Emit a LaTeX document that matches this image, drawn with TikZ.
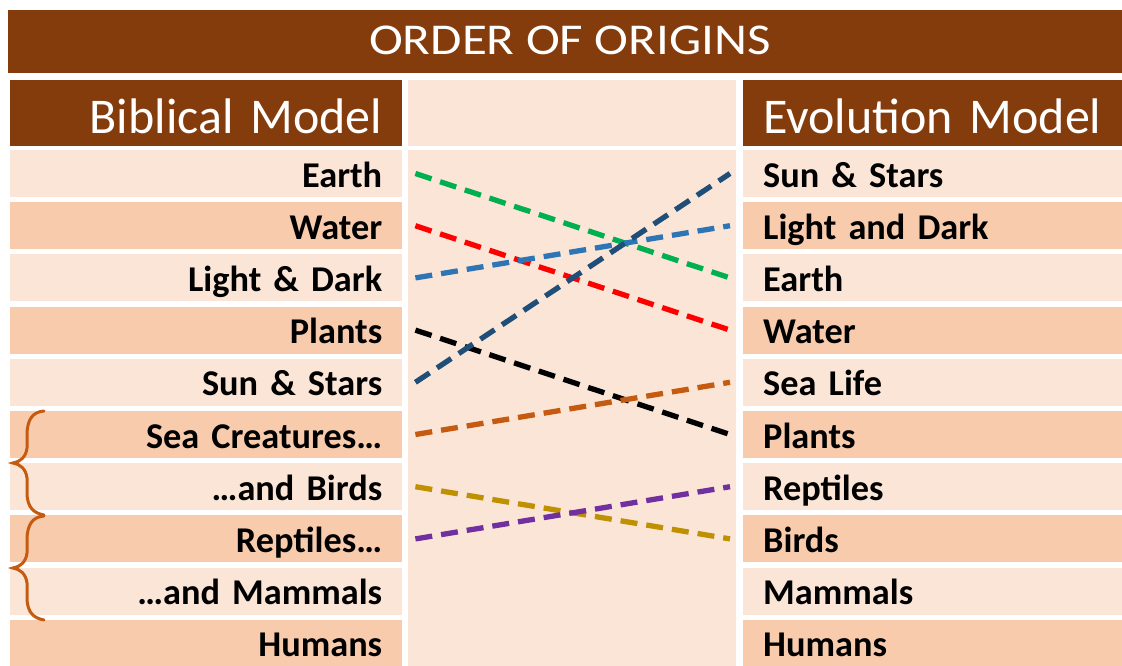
\documentclass[tikz,border=0pt]{standalone}
\usepackage{fontspec}
\setmainfont{Carlito}
\newfontfamily\titlefont[FakeStretch=1.16]{Carlito}
\definecolor{brownbar}{HTML}{843C0C}
\definecolor{rowlight}{HTML}{FBE5D6}
\definecolor{rowdark}{HTML}{F8CBAD}
\definecolor{bracecol}{HTML}{C55A11}
\definecolor{lgreen}{HTML}{00B050}
\definecolor{lred}{HTML}{FF0000}
\definecolor{lblue}{HTML}{2E75B6}
\definecolor{dblue}{HTML}{1F4E79}
\definecolor{lorange}{HTML}{C55A11}
\definecolor{lolive}{HTML}{BF9000}
\definecolor{lpurple}{HTML}{7030A0}
\begin{document}
\begin{tikzpicture}[x=1pt,y=-1pt,
  titlebox/.style={fill=brownbar, text=white, minimum width=1114pt, minimum height=63pt, inner sep=0pt,
    text height=25pt, text depth=0pt, font=\titlefont\fontsize{44}{50}\selectfont},
  headL/.style={anchor=west, fill=brownbar, text=white, minimum height=66pt, text width=352pt, inner xsep=20pt, inner ysep=0pt,
    align=right, text height=40pt, text depth=0pt, font=\fontsize{50}{56}\selectfont},
  headR/.style={headL, text width=339pt, align=left},
  cellL/.style={anchor=west, minimum height=47pt, text width=352pt, inner xsep=20pt, inner ysep=0pt,
    align=right, text height=28pt, text depth=1pt, font=\fontsize{36.3}{40}\selectfont\bfseries},
  cellR/.style={cellL, text width=339pt, align=left},
  midbox/.style={fill=rowlight, anchor=north west, minimum width=328pt, inner sep=0pt},
  conn/.style={line width=5.3pt, dash pattern=on 17pt off 9pt},
  bracestyle/.style={draw=bracecol, line width=3pt, line cap=round}
]
\useasboundingbox[fill=white] (0,0) rectangle (1122,665);

% title and headers
\node[titlebox] (title) at (565,41.5) {\hspace*{10pt}ORDER OF ORIGINS};
\node[headL] (hL) at (10,113) {Biblical Model};
\node[midbox, minimum height=66pt] (hM) at (408,80) {};
\node[headR] (hR) at (743,113) {Evolution Model};
\node[midbox, minimum height=517pt] (mid) at (408,150) {};

% left column
\node[cellL, fill=rowlight] (L1)  at (10,173.5) {Earth};
\node[cellL, fill=rowdark]  (L2)  at (10,225.7) {Water};
\node[cellL, fill=rowlight] (L3)  at (10,277.9) {Light \& Dark};
\node[cellL, fill=rowdark]  (L4)  at (10,330.1) {Plants};
\node[cellL, fill=rowlight] (L5)  at (10,382.3) {Sun \& Stars};
\node[cellL, fill=rowdark]  (L6)  at (10,434.5) {Sea Creatures…};
\node[cellL, fill=rowlight] (L7)  at (10,486.7) {…and Birds};
\node[cellL, fill=rowdark]  (L8)  at (10,538.9) {Reptiles…};
\node[cellL, fill=rowlight] (L9)  at (10,591.1) {…and Mammals};
\node[cellL, fill=rowdark]  (L10) at (10,643.3) {Humans};

% right column
\node[cellR, fill=rowlight] (R1)  at (743,173.5) {Sun \& Stars};
\node[cellR, fill=rowdark]  (R2)  at (743,225.7) {Light and Dark};
\node[cellR, fill=rowlight] (R3)  at (743,277.9) {Earth};
\node[cellR, fill=rowdark]  (R4)  at (743,330.1) {Water};
\node[cellR, fill=rowlight] (R5)  at (743,382.3) {Sea Life};
\node[cellR, fill=rowdark]  (R6)  at (743,434.5) {Plants};
\node[cellR, fill=rowlight] (R7)  at (743,486.7) {Reptiles};
\node[cellR, fill=rowdark]  (R8)  at (743,538.9) {Birds};
\node[cellR, fill=rowlight] (R9)  at (743,591.1) {Mammals};
\node[cellR, fill=rowdark]  (R10) at (743,643.3) {Humans};

% connectors
\draw[conn, lgreen]  ([xshift=13pt]L1.east) -- ([xshift=-13pt]R3.west);
\draw[conn, lred]    ([xshift=13pt]L2.east) -- ([xshift=-13pt]R4.west);
\draw[conn, black]   ([xshift=13pt]L4.east) -- ([xshift=-13pt]R6.west);
\draw[conn, lblue]   ([xshift=13pt]L3.east) -- ([xshift=-13pt]R2.west);
\draw[conn, dblue]   ([xshift=13pt]L5.east) -- ([xshift=-13pt]R1.west);
\draw[conn, lorange] ([xshift=13pt]L6.east) -- ([xshift=-13pt]R5.west);
\draw[conn, lolive]  ([xshift=13pt]L7.east) -- ([xshift=-13pt]R8.west);
\draw[conn, lpurple] ([xshift=13pt]L8.east) -- ([xshift=-13pt]R7.west);

% braces
\draw[bracestyle] (44,411) .. controls (32,412) and (28,420) .. (27,432) -- (27,448)
  .. controls (26,457) and (20,462) .. (13,463) .. controls (20,464) and (26,469) .. (27,478)
  -- (27,495) .. controls (28,507) and (33,513) .. (44,515);
\draw[bracestyle] (44,516) .. controls (32,517) and (28,525) .. (27,537) -- (27,553)
  .. controls (26,562) and (20,567) .. (13,568) .. controls (20,569) and (26,574) .. (27,583)
  -- (27,600) .. controls (28,612) and (33,618) .. (44,620);
\end{tikzpicture}
\end{document}
